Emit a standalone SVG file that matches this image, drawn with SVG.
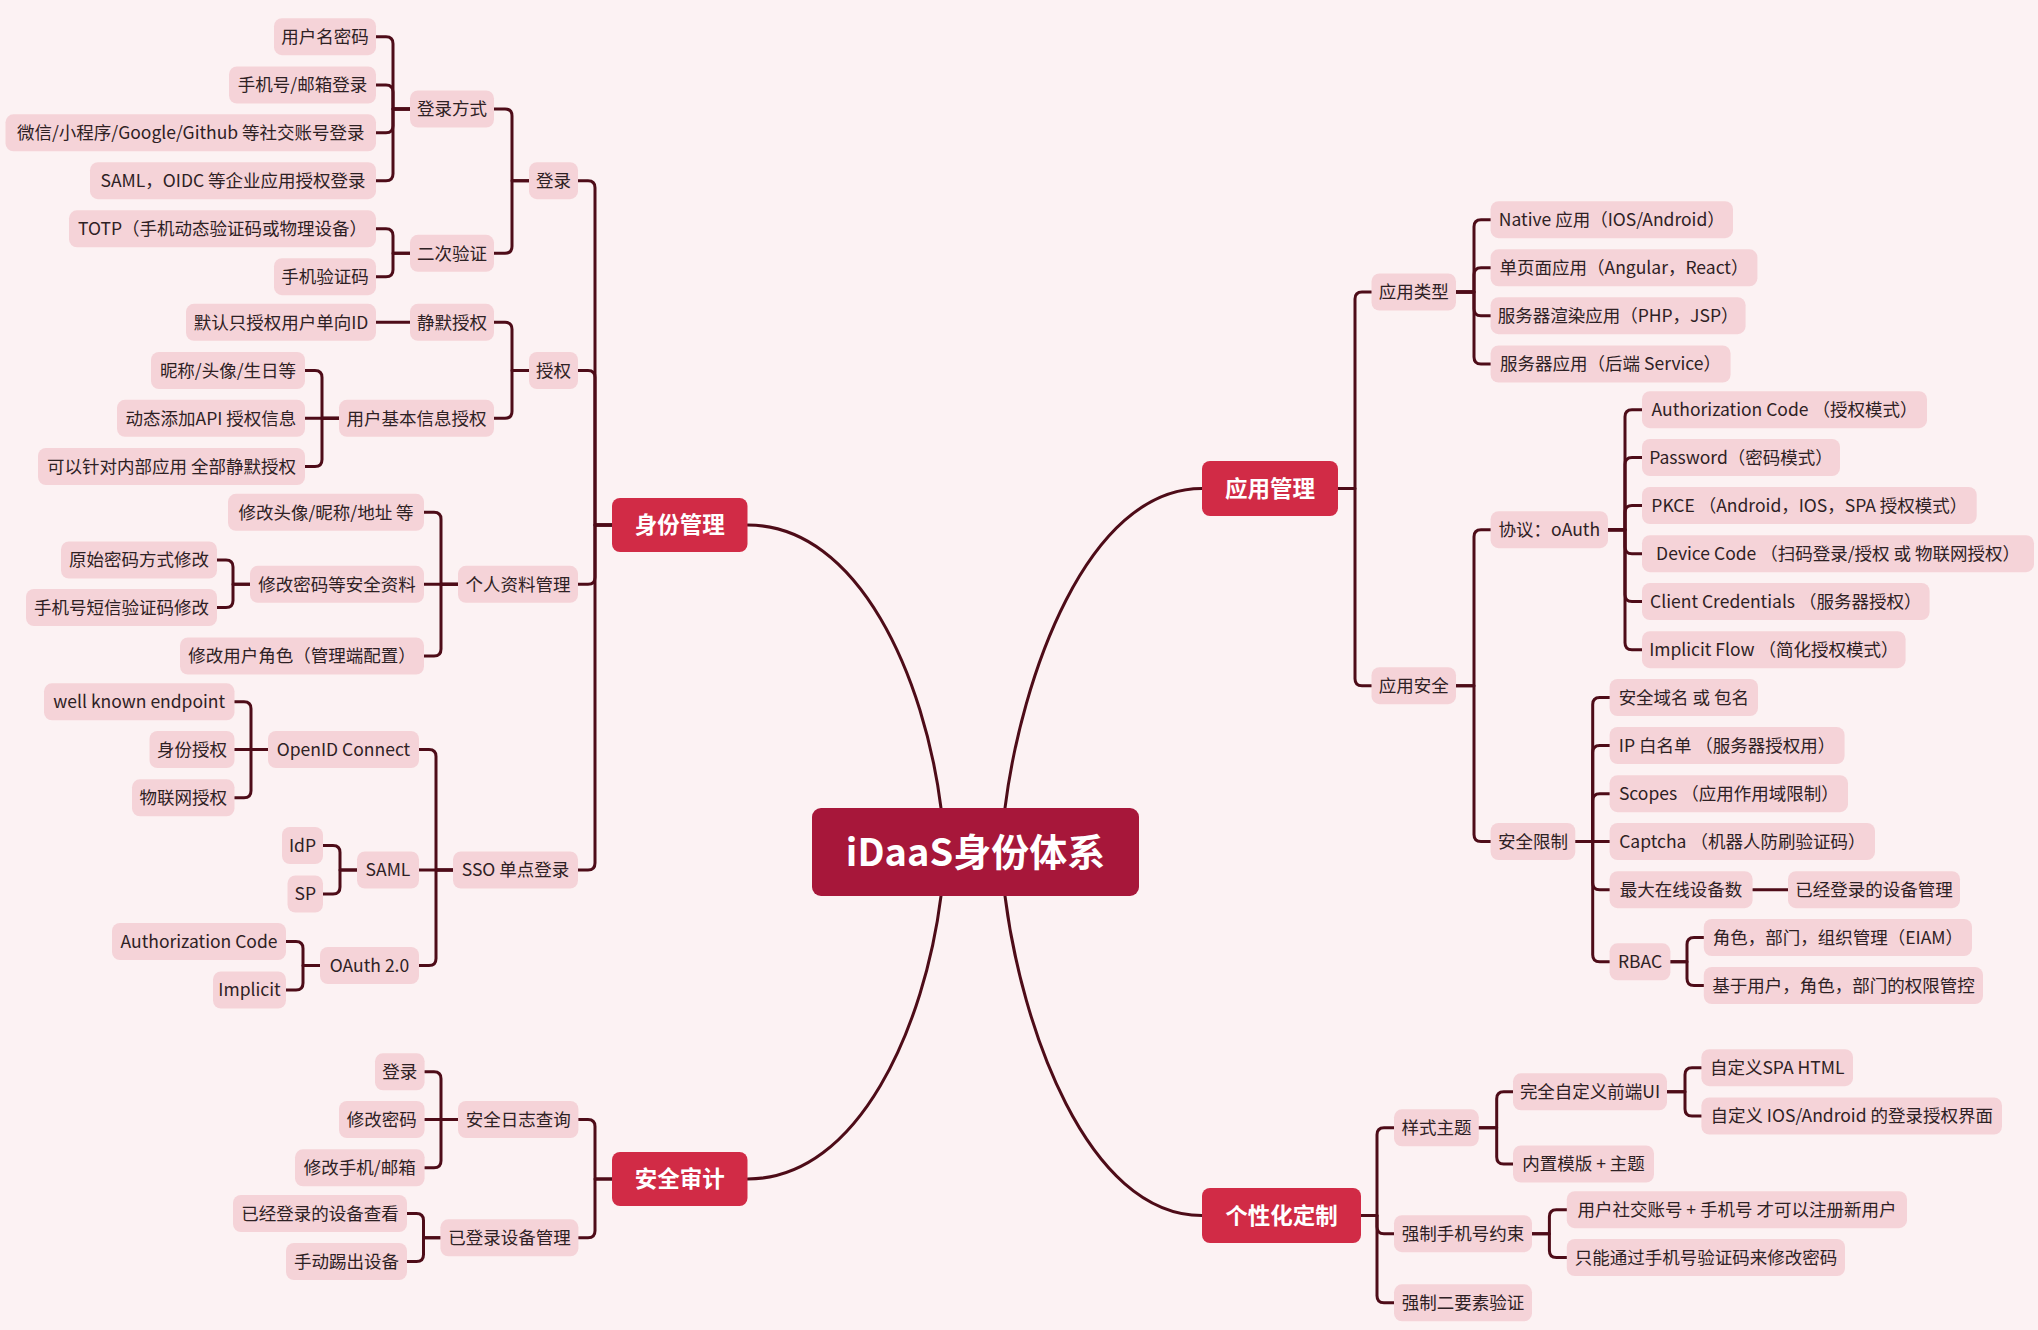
<svg xmlns="http://www.w3.org/2000/svg" width="2038" height="1330" viewBox="0 0 2038 1330">
<style>
.bg{fill:#FCF2F3}
.leaf rect{fill:#F5D3D8}
.leaf text{font-family:"Noto Sans CJK SC","Noto Sans",sans-serif;font-size:17.5px;fill:#2E2124;text-anchor:middle}
.main rect{fill:#D12B46}
.main text{font-family:"Noto Sans CJK SC","Noto Sans",sans-serif;font-size:22.5px;font-weight:bold;fill:#FFFFFF;text-anchor:middle}
.root rect{fill:#A7173A}
.root text{font-family:"Noto Sans CJK SC","Noto Sans",sans-serif;font-size:38px;font-weight:bold;fill:#FFFFFF;text-anchor:middle}
.links path{fill:none;stroke:#4E0C18;stroke-width:3;stroke-linecap:round;stroke-linejoin:round}
</style>
<rect class="bg" x="0" y="0" width="2038" height="1330"/>
<g id="connectors" class="links">
<path d="M941,808 C925,680 860,525 747.5,525"/>
<path d="M941,896 C925,1024 860,1179 747.5,1179"/>
<path d="M1005,808 C1021,680 1086,488.5 1202,488.5"/>
<path d="M1005,896 C1021,1024 1086,1215.5 1202,1215.5"/>
<path d="M612,525 H595 V187.7 Q595,180.7 588,180.7 H578"/>
<path d="M612,525 H595 V377.5 Q595,370.5 588,370.5 H578"/>
<path d="M612,525 H595 V577.3 Q595,584.3 588,584.3 H578"/>
<path d="M612,525 H595 V863 Q595,870 588,870 H578"/>
<path d="M529,180.7 H512 V116 Q512,109 505,109 H494"/>
<path d="M529,180.7 H512 V246.3 Q512,253.3 505,253.3 H494"/>
<path d="M410,109 H393 V43.7 Q393,36.7 386,36.7 H376"/>
<path d="M410,109 H393 V92 Q393,85 386,85 H376"/>
<path d="M410,109 H393 V125.8 Q393,132.8 386,132.8 H376"/>
<path d="M410,109 H393 V173.7 Q393,180.7 386,180.7 H376"/>
<path d="M410,253.3 H393 V235.8 Q393,228.8 386,228.8 H376"/>
<path d="M410,253.3 H393 V269.7 Q393,276.7 386,276.7 H376"/>
<path d="M529,370.5 H512 V329.3 Q512,322.3 505,322.3 H494"/>
<path d="M529,370.5 H512 V411.3 Q512,418.3 505,418.3 H494"/>
<path d="M410,322.3 H376"/>
<path d="M339,418.3 H322 V377.5 Q322,370.5 315,370.5 H305"/>
<path d="M339,418.3 H305"/>
<path d="M339,418.3 H322 V459.5 Q322,466.5 315,466.5 H305"/>
<path d="M458,584.3 H441 V519.3 Q441,512.3 434,512.3 H424"/>
<path d="M458,584.3 H424"/>
<path d="M458,584.3 H441 V649 Q441,656 434,656 H424"/>
<path d="M250,584.3 H233 V567 Q233,560 226,560 H217"/>
<path d="M250,584.3 H233 V600.5 Q233,607.5 226,607.5 H217"/>
<path d="M453,870 H436 V756.5 Q436,749.5 429,749.5 H419"/>
<path d="M453,870 H419"/>
<path d="M453,870 H436 V958.5 Q436,965.5 429,965.5 H419"/>
<path d="M268,749.5 H251 V708.8 Q251,701.8 244,701.8 H234.5"/>
<path d="M268,749.5 H234.5"/>
<path d="M268,749.5 H251 V790.8 Q251,797.8 244,797.8 H234.5"/>
<path d="M357,870 H340 V852.5 Q340,845.5 333,845.5 H323"/>
<path d="M357,870 H340 V887 Q340,894 333,894 H323"/>
<path d="M320,965.5 H303 V948.5 Q303,941.5 296,941.5 H286"/>
<path d="M320,965.5 H303 V983 Q303,990 296,990 H286"/>
<path d="M612,1179 H595 V1126.5 Q595,1119.5 588,1119.5 H578.4"/>
<path d="M612,1179 H595 V1230.8 Q595,1237.8 588,1237.8 H578.4"/>
<path d="M458,1119.5 H441 V1078.8 Q441,1071.8 434,1071.8 H424.6"/>
<path d="M458,1119.5 H424.6"/>
<path d="M458,1119.5 H441 V1160.8 Q441,1167.8 434,1167.8 H424.6"/>
<path d="M440.4,1237.8 H423.5 V1220.5 Q423.5,1213.5 416.5,1213.5 H407"/>
<path d="M440.4,1237.8 H423.5 V1254.5 Q423.5,1261.5 416.5,1261.5 H407"/>
<path d="M1338,488.5 H1355 V299 Q1355,292 1362,292 H1371.5"/>
<path d="M1338,488.5 H1355 V678.7 Q1355,685.7 1362,685.7 H1371.5"/>
<path d="M1456,292 H1474 V226.7 Q1474,219.7 1481,219.7 H1490.6"/>
<path d="M1456,292 H1474 V274.8 Q1474,267.8 1481,267.8 H1490.6"/>
<path d="M1456,292 H1474 V308.7 Q1474,315.7 1481,315.7 H1490.6"/>
<path d="M1456,292 H1474 V357 Q1474,364 1481,364 H1490.6"/>
<path d="M1456,685.7 H1474 V536.7 Q1474,529.7 1481,529.7 H1490.6"/>
<path d="M1456,685.7 H1474 V834.5 Q1474,841.5 1481,841.5 H1490.6"/>
<path d="M1608,529.7 H1625 V416.7 Q1625,409.7 1632,409.7 H1642"/>
<path d="M1608,529.7 H1625 V464.5 Q1625,457.5 1632,457.5 H1642"/>
<path d="M1608,529.7 H1625 V512.5 Q1625,505.5 1632,505.5 H1642"/>
<path d="M1608,529.7 H1625 V546.7 Q1625,553.7 1632,553.7 H1642"/>
<path d="M1608,529.7 H1625 V594.5 Q1625,601.5 1632,601.5 H1642"/>
<path d="M1608,529.7 H1625 V642.7 Q1625,649.7 1632,649.7 H1642"/>
<path d="M1575.3,841.5 H1592.7 V704.5 Q1592.7,697.5 1599.7,697.5 H1609.6"/>
<path d="M1575.3,841.5 H1592.7 V752.5 Q1592.7,745.5 1599.7,745.5 H1609.6"/>
<path d="M1575.3,841.5 H1592.7 V800.7 Q1592.7,793.7 1599.7,793.7 H1609.6"/>
<path d="M1575.3,841.5 H1609.6"/>
<path d="M1575.3,841.5 H1592.7 V882.7 Q1592.7,889.7 1599.7,889.7 H1609.6"/>
<path d="M1575.3,841.5 H1592.7 V954.8 Q1592.7,961.8 1599.7,961.8 H1609.6"/>
<path d="M1752.6,889.7 H1788"/>
<path d="M1670.4,961.8 H1687 V944.5 Q1687,937.5 1694,937.5 H1703.8"/>
<path d="M1670.4,961.8 H1687 V978.5 Q1687,985.5 1694,985.5 H1703.8"/>
<path d="M1361,1215.5 H1377 V1134.8 Q1377,1127.8 1384,1127.8 H1394"/>
<path d="M1361,1215.5 H1377 V1226.7 Q1377,1233.7 1384,1233.7 H1394"/>
<path d="M1361,1215.5 H1377 V1295.8 Q1377,1302.8 1384,1302.8 H1394"/>
<path d="M1478.8,1127.8 H1496.7 V1098.8 Q1496.7,1091.8 1503.7,1091.8 H1513"/>
<path d="M1478.8,1127.8 H1496.7 V1157 Q1496.7,1164 1503.7,1164 H1513"/>
<path d="M1667,1091.8 H1685 V1074.7 Q1685,1067.7 1692,1067.7 H1701.4"/>
<path d="M1667,1091.8 H1685 V1109 Q1685,1116 1692,1116 H1701.4"/>
<path d="M1532,1233.7 H1549.4 V1216.7 Q1549.4,1209.7 1556.4,1209.7 H1566.8"/>
<path d="M1532,1233.7 H1549.4 V1250.5 Q1549.4,1257.5 1556.4,1257.5 H1566.8"/>
</g>
<g id="root" class="root"><rect x="812" y="808" width="327" height="88" rx="9"/><text x="975.5" y="865.5">iDaaS身份体系</text></g>
<g id="m-identity" class="main"><rect x="612" y="498" width="135.5" height="54" rx="8"/><text x="679.75" y="533">身份管理</text></g>
<g id="m-audit" class="main"><rect x="612" y="1152" width="135.5" height="54" rx="8"/><text x="679.75" y="1187">安全审计</text></g>
<g id="m-app" class="main"><rect x="1202" y="461" width="136" height="55" rx="8"/><text x="1270" y="496.5">应用管理</text></g>
<g id="m-custom" class="main"><rect x="1202" y="1188" width="159" height="55" rx="8"/><text x="1281.5" y="1223.5">个性化定制</text></g>
<g id="n1" class="leaf"><rect x="274" y="18.2" width="102" height="37" rx="8"/><text x="325" y="43">用户名密码</text></g>
<g id="n2" class="leaf"><rect x="229" y="66.5" width="147" height="37" rx="8"/><text x="302.5" y="91.3">手机号/邮箱登录</text></g>
<g id="n3" class="leaf"><rect x="5.5" y="114.3" width="370.5" height="37" rx="8"/><text x="190.75" y="139.1">微信/小程序/Google/Github 等社交账号登录</text></g>
<g id="n4" class="leaf"><rect x="90" y="162.2" width="286" height="37" rx="8"/><text x="233" y="187">SAML，OIDC 等企业应用授权登录</text></g>
<g id="n5" class="leaf"><rect x="69" y="210.3" width="307" height="37" rx="8"/><text x="222.5" y="235.1">TOTP（手机动态验证码或物理设备）</text></g>
<g id="n6" class="leaf"><rect x="274" y="258.2" width="102" height="37" rx="8"/><text x="325" y="283">手机验证码</text></g>
<g id="n7" class="leaf"><rect x="410" y="90.5" width="84" height="37" rx="8"/><text x="452" y="115.3">登录方式</text></g>
<g id="n8" class="leaf"><rect x="410" y="234.8" width="84" height="37" rx="8"/><text x="452" y="259.6">二次验证</text></g>
<g id="n9" class="leaf"><rect x="529" y="162.2" width="49" height="37" rx="8"/><text x="553.5" y="187">登录</text></g>
<g id="n10" class="leaf"><rect x="186" y="303.8" width="190" height="37" rx="8"/><text x="281" y="328.6">默认只授权用户单向ID</text></g>
<g id="n11" class="leaf"><rect x="410" y="303.8" width="84" height="37" rx="8"/><text x="452" y="328.6">静默授权</text></g>
<g id="n12" class="leaf"><rect x="151" y="352" width="154" height="37" rx="8"/><text x="228" y="376.8">昵称/头像/生日等</text></g>
<g id="n13" class="leaf"><rect x="117" y="399.8" width="188" height="37" rx="8"/><text x="211" y="424.6">动态添加API 授权信息</text></g>
<g id="n14" class="leaf"><rect x="38" y="448" width="267" height="37" rx="8"/><text x="171.5" y="472.8">可以针对内部应用 全部静默授权</text></g>
<g id="n15" class="leaf"><rect x="339" y="399.8" width="155" height="37" rx="8"/><text x="416.5" y="424.6">用户基本信息授权</text></g>
<g id="n16" class="leaf"><rect x="529" y="352" width="49" height="37" rx="8"/><text x="553.5" y="376.8">授权</text></g>
<g id="n17" class="leaf"><rect x="228" y="493.8" width="196" height="37" rx="8"/><text x="326" y="518.6">修改头像/昵称/地址 等</text></g>
<g id="n18" class="leaf"><rect x="61" y="541.5" width="156" height="37" rx="8"/><text x="139" y="566.3">原始密码方式修改</text></g>
<g id="n19" class="leaf"><rect x="26" y="589" width="191" height="37" rx="8"/><text x="121.5" y="613.8">手机号短信验证码修改</text></g>
<g id="n20" class="leaf"><rect x="250" y="565.8" width="174" height="37" rx="8"/><text x="337" y="590.6">修改密码等安全资料</text></g>
<g id="n21" class="leaf"><rect x="180" y="637.5" width="244" height="37" rx="8"/><text x="302" y="662.3">修改用户角色（管理端配置）</text></g>
<g id="n22" class="leaf"><rect x="458" y="565.8" width="120" height="37" rx="8"/><text x="518" y="590.6">个人资料管理</text></g>
<g id="n23" class="leaf"><rect x="44" y="683.3" width="190.5" height="37" rx="8"/><text x="139.25" y="708.1">well known endpoint</text></g>
<g id="n24" class="leaf"><rect x="149.5" y="731" width="85" height="37" rx="8"/><text x="192" y="755.8">身份授权</text></g>
<g id="n25" class="leaf"><rect x="132" y="779.3" width="102.5" height="37" rx="8"/><text x="183.25" y="804.1">物联网授权</text></g>
<g id="n26" class="leaf"><rect x="268" y="731" width="151" height="37" rx="8"/><text x="343.5" y="755.8">OpenID Connect</text></g>
<g id="n27" class="leaf"><rect x="282" y="827" width="41" height="37" rx="8"/><text x="302.5" y="851.8">IdP</text></g>
<g id="n28" class="leaf"><rect x="287.5" y="875.5" width="35.5" height="37" rx="8"/><text x="305.25" y="900.3">SP</text></g>
<g id="n29" class="leaf"><rect x="357" y="851.5" width="62" height="37" rx="8"/><text x="388" y="876.3">SAML</text></g>
<g id="n30" class="leaf"><rect x="112" y="923" width="174" height="37" rx="8"/><text x="199" y="947.8">Authorization Code</text></g>
<g id="n31" class="leaf"><rect x="213" y="971.5" width="73" height="37" rx="8"/><text x="249.5" y="996.3">Implicit</text></g>
<g id="n32" class="leaf"><rect x="320" y="947" width="99" height="37" rx="8"/><text x="369.5" y="971.8">OAuth 2.0</text></g>
<g id="n33" class="leaf"><rect x="453" y="851.5" width="125" height="37" rx="8"/><text x="515.5" y="876.3">SSO 单点登录</text></g>
<g id="n34" class="leaf"><rect x="375" y="1053.3" width="49.6" height="37" rx="8"/><text x="399.8" y="1078.1">登录</text></g>
<g id="n35" class="leaf"><rect x="339" y="1101" width="85.6" height="37" rx="8"/><text x="381.8" y="1125.8">修改密码</text></g>
<g id="n36" class="leaf"><rect x="295" y="1149.3" width="129.6" height="37" rx="8"/><text x="359.8" y="1174.1">修改手机/邮箱</text></g>
<g id="n37" class="leaf"><rect x="458" y="1101" width="120.4" height="37" rx="8"/><text x="518.2" y="1125.8">安全日志查询</text></g>
<g id="n38" class="leaf"><rect x="233" y="1195" width="174" height="37" rx="8"/><text x="320" y="1219.8">已经登录的设备查看</text></g>
<g id="n39" class="leaf"><rect x="286" y="1243" width="121" height="37" rx="8"/><text x="346.5" y="1267.8">手动踢出设备</text></g>
<g id="n40" class="leaf"><rect x="440.4" y="1219.3" width="138" height="37" rx="8"/><text x="509.4" y="1244.1">已登录设备管理</text></g>
<g id="n41" class="leaf"><rect x="1371.5" y="273.5" width="84.5" height="37" rx="8"/><text x="1413.75" y="298.3">应用类型</text></g>
<g id="n42" class="leaf"><rect x="1490.6" y="201.2" width="242.4" height="37" rx="8"/><text x="1611.8" y="226">Native 应用（IOS/Android）</text></g>
<g id="n43" class="leaf"><rect x="1490.6" y="249.3" width="266.8" height="37" rx="8"/><text x="1624" y="274.1">单页面应用（Angular，React）</text></g>
<g id="n44" class="leaf"><rect x="1490.6" y="297.2" width="255" height="37" rx="8"/><text x="1618.1" y="322">服务器渲染应用（PHP，JSP）</text></g>
<g id="n45" class="leaf"><rect x="1490.6" y="345.5" width="240" height="37" rx="8"/><text x="1610.6" y="370.3">服务器应用（后端 Service）</text></g>
<g id="n46" class="leaf"><rect x="1371.5" y="667.2" width="84.5" height="37" rx="8"/><text x="1413.75" y="692">应用安全</text></g>
<g id="n47" class="leaf"><rect x="1490.6" y="511.2" width="117.4" height="37" rx="8"/><text x="1549.3" y="536">协议：oAuth</text></g>
<g id="n48" class="leaf"><rect x="1642" y="391.2" width="285" height="37" rx="8"/><text x="1784.5" y="416">Authorization Code （授权模式）</text></g>
<g id="n49" class="leaf"><rect x="1642" y="439" width="198" height="37" rx="8"/><text x="1741" y="463.8">Password（密码模式）</text></g>
<g id="n50" class="leaf"><rect x="1642" y="487" width="334.7" height="37" rx="8"/><text x="1809.35" y="511.8">PKCE （Android，IOS，SPA 授权模式）</text></g>
<g id="n51" class="leaf"><rect x="1642" y="535.2" width="392" height="37" rx="8"/><text x="1838" y="560">Device Code （扫码登录/授权 或 物联网授权）</text></g>
<g id="n52" class="leaf"><rect x="1642" y="583" width="287.6" height="37" rx="8"/><text x="1785.8" y="607.8">Client Credentials （服务器授权）</text></g>
<g id="n53" class="leaf"><rect x="1642" y="631.2" width="263.6" height="37" rx="8"/><text x="1773.8" y="656">Implicit Flow （简化授权模式）</text></g>
<g id="n54" class="leaf"><rect x="1490.6" y="823" width="84.7" height="37" rx="8"/><text x="1532.95" y="847.8">安全限制</text></g>
<g id="n55" class="leaf"><rect x="1609.6" y="679" width="148.4" height="37" rx="8"/><text x="1683.8" y="703.8">安全域名 或 包名</text></g>
<g id="n56" class="leaf"><rect x="1609.6" y="727" width="235" height="37" rx="8"/><text x="1727.1" y="751.8">IP 白名单 （服务器授权用）</text></g>
<g id="n57" class="leaf"><rect x="1609.6" y="775.2" width="238.4" height="37" rx="8"/><text x="1728.8" y="800">Scopes （应用作用域限制）</text></g>
<g id="n58" class="leaf"><rect x="1609.6" y="823" width="265.4" height="37" rx="8"/><text x="1742.3" y="847.8">Captcha （机器人防刷验证码）</text></g>
<g id="n59" class="leaf"><rect x="1609.6" y="871.2" width="143" height="37" rx="8"/><text x="1681.1" y="896">最大在线设备数</text></g>
<g id="n60" class="leaf"><rect x="1788" y="871.2" width="172" height="37" rx="8"/><text x="1874" y="896">已经登录的设备管理</text></g>
<g id="n61" class="leaf"><rect x="1609.6" y="943.3" width="60.8" height="37" rx="8"/><text x="1640" y="968.1">RBAC</text></g>
<g id="n62" class="leaf"><rect x="1703.8" y="919" width="268.2" height="37" rx="8"/><text x="1837.9" y="943.8">角色，部门，组织管理（EIAM）</text></g>
<g id="n63" class="leaf"><rect x="1703.8" y="967" width="279.2" height="37" rx="8"/><text x="1843.4" y="991.8">基于用户，角色，部门的权限管控</text></g>
<g id="n64" class="leaf"><rect x="1394" y="1109.3" width="84.8" height="37" rx="8"/><text x="1436.4" y="1134.1">样式主题</text></g>
<g id="n65" class="leaf"><rect x="1394" y="1215.2" width="138" height="37" rx="8"/><text x="1463" y="1240">强制手机号约束</text></g>
<g id="n66" class="leaf"><rect x="1394" y="1284.3" width="138" height="37" rx="8"/><text x="1463" y="1309.1">强制二要素验证</text></g>
<g id="n67" class="leaf"><rect x="1513" y="1073.3" width="154" height="37" rx="8"/><text x="1590" y="1098.1">完全自定义前端UI</text></g>
<g id="n68" class="leaf"><rect x="1513" y="1145.5" width="141" height="37" rx="8"/><text x="1583.5" y="1170.3">内置模版 + 主题</text></g>
<g id="n69" class="leaf"><rect x="1701.4" y="1049.2" width="151.6" height="37" rx="8"/><text x="1777.2" y="1074">自定义SPA HTML</text></g>
<g id="n70" class="leaf"><rect x="1701.4" y="1097.5" width="300.6" height="37" rx="8"/><text x="1851.7" y="1122.3">自定义 IOS/Android 的登录授权界面</text></g>
<g id="n71" class="leaf"><rect x="1566.8" y="1191.2" width="340.2" height="37" rx="8"/><text x="1736.9" y="1216">用户社交账号 + 手机号 才可以注册新用户</text></g>
<g id="n72" class="leaf"><rect x="1566.8" y="1239" width="278.2" height="37" rx="8"/><text x="1705.9" y="1263.8">只能通过手机号验证码来修改密码</text></g>
</svg>
